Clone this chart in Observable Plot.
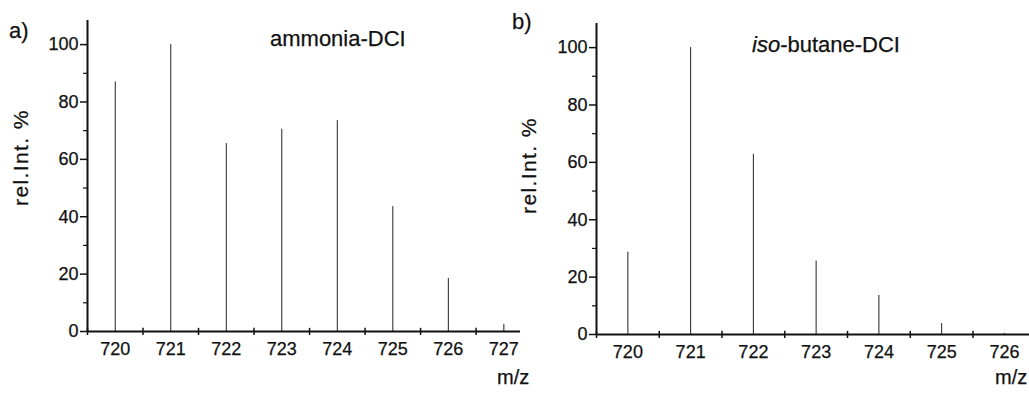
<!DOCTYPE html>
<html>
<head>
<meta charset="utf-8">
<script src="https://cdn.jsdelivr.net/npm/d3@7"></script>
<script src="https://cdn.jsdelivr.net/npm/@observablehq/plot@0.6"></script>
<style>
  html, body { margin: 0; padding: 0; background: #fff; }
  #wrap { position: relative; width: 1029px; height: 394px; overflow: hidden; font-family: "Liberation Sans", Arial, Helvetica, sans-serif; color: #111; }
  .pane { position: absolute; top: 0; }
  .pane text { stroke: #111; stroke-width: 0.25px; }
  .lbl { position: absolute; white-space: nowrap; line-height: 1; color: #111; -webkit-text-stroke: 0.25px #111; }
  .ylab { position: absolute; white-space: nowrap; font-size: 21px; letter-spacing: 1.4px; transform-origin: 0 0; transform: rotate(-90deg); line-height: 1; color: #111; -webkit-text-stroke: 0.25px #111; }
</style>
</head>
<body>
<div id="wrap"></div>
<script>
// ---- data ----
const mzA = [720, 721, 722, 723, 724, 725, 726, 727];
const intA = [87, 100, 65.5, 70.5, 73.5, 43.5, 18.5, 2.5];
const mzB = [720, 721, 722, 723, 724, 725, 726];
const intB = [28.7, 100, 62.8, 25.6, 13.6, 3.8, 0.4];
const yMajor = [0, 20, 40, 60, 80, 100];
const yMinor = [10, 30, 50, 70, 90];
const xLabelsA = [720, 721, 722, 723, 724, 725, 726, 727];
const xLabelsB = [720, 721, 722, 723, 724, 725, 726];
const xHalfA = [719.5, 720.5, 721.5, 722.5, 723.5, 724.5, 725.5, 726.5];
const xHalfB = [719.5, 720.5, 721.5, 722.5, 723.5, 724.5, 725.5, 726.5];

const font = '"Liberation Sans", Arial, Helvetica, sans-serif';

function spectrum({mz, ints, xDomain, xLabels, xHalf, width, marginLeft, marginTop, marginBottom}) {
  const data = mz.map((m, i) => ({mz: m, v: ints[i]}));
  return Plot.plot({
    width, height: 394,
    marginLeft, marginRight: 0, marginTop, marginBottom,
    style: {fontFamily: font, overflow: "visible", background: "transparent", color: "#111"},
    x: {domain: xDomain, axis: null},
    y: {domain: [0, 108.4], axis: null},
    marks: [
      Plot.ruleX(data, {x: "mz", y1: 0, y2: "v", stroke: "#222", strokeWidth: 1}),
      Plot.ruleX(xHalf, {x: d => d, y1: -1.4, y2: 1.1, stroke: "#111", strokeWidth: 1.5}),
      Plot.ruleY([0], {stroke: "#111", strokeWidth: 2}),
      Plot.ruleX([xDomain[0]], {stroke: "#111", strokeWidth: 2}),
      Plot.axisY({ticks: yMajor, tickSize: 7, tickPadding: 2, fontSize: 18, tickFormat: d => String(d), label: null, strokeWidth: 1.5}),
      Plot.axisY({ticks: yMinor, tickSize: 4, text: null, label: null, strokeWidth: 1.2}),
      Plot.axisX({ticks: xLabels, tickSize: 0, tickPadding: 11, fontSize: 18, tickFormat: d => String(d), label: null})
    ]
  });
}

const wrap = document.getElementById("wrap");

const pa = spectrum({mz: mzA, ints: intA, xDomain: [719.5, 727.3], xLabels: xLabelsA, xHalf: xHalfA,
  width: 520, marginLeft: 87, marginTop: 20, marginBottom: 63});
pa.classList.add("pane"); pa.style.left = "0px";
const pb = spectrum({mz: mzB, ints: intB, xDomain: [719.5, 726.4], xLabels: xLabelsB, xHalf: xHalfB,
  width: 509, marginLeft: 76, marginTop: 23, marginBottom: 60});
pb.classList.add("pane"); pb.style.left = "520px";
wrap.appendChild(pa);
wrap.appendChild(pb);

function label(html, left, top, size, extra) {
  const d = document.createElement("div");
  d.className = "lbl";
  d.innerHTML = html;
  d.style.left = left + "px";
  d.style.top = top + "px";
  d.style.fontSize = size + "px";
  if (extra) Object.assign(d.style, extra);
  wrap.appendChild(d);
}
function ylab(text, left, centerY) {
  const d = document.createElement("div");
  d.className = "ylab";
  d.textContent = text;
  wrap.appendChild(d);
  const w = d.getBoundingClientRect().height;
  d.style.left = left + "px";
  d.style.top = (centerY + w / 2) + "px";
}

label("a)", 9, 20, 22);
label("ammonia-DCI", 270, 28, 22);
label("m/z", 497, 367, 20);
label("b)", 512, 11, 22);
label("<i>iso</i>-butane-DCI", 752, 34, 22);
label("m/z", 995, 367, 20);
ylab("rel.Int. %", 10, 158);
ylab("rel.Int. %", 518, 166);
</script>
</body>
</html>
